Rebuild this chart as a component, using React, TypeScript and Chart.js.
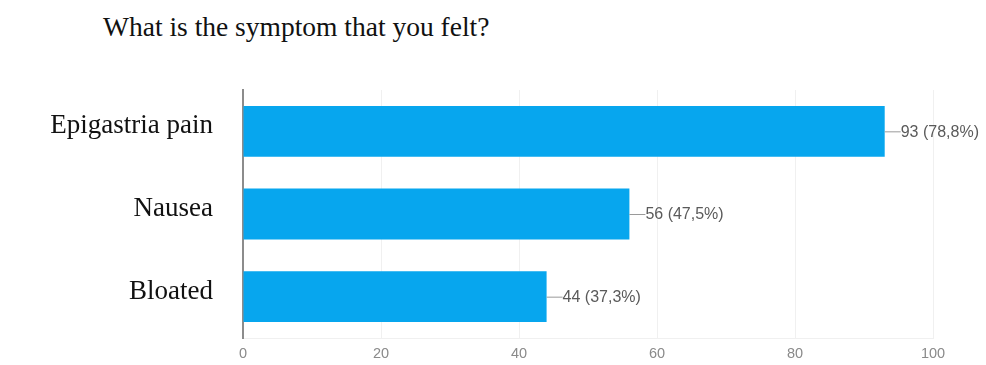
import React, { useEffect, useRef } from "react";
import { Chart, registerables } from "chart.js";

Chart.register(...registerables);

const categories = ["Epigastria pain", "Nausea", "Bloated"];
const counts = [93, 56, 44];
const percents = ["78,8%", "47,5%", "37,3%"];
const xTicks = [0, 20, 40, 60, 80, 100];
const title = "What is the symptom that you felt?";

const valueLabels = {
  id: "valueLabels",
  afterDatasetsDraw(chart: any) {
    const ctx = chart.ctx;
    const meta = chart.getDatasetMeta(0);
    ctx.save();
    meta.data.forEach((bar: any, i: number) => {
      const x = bar.x;
      const y = bar.y;
      ctx.strokeStyle = "#9a9a9a";
      ctx.lineWidth = 1;
      ctx.beginPath();
      ctx.moveTo(x, y + 0.5);
      ctx.lineTo(x + 16, y + 0.5);
      ctx.stroke();
      ctx.fillStyle = "#5a5a5a";
      ctx.font = "16px 'Liberation Sans', Arial, sans-serif";
      ctx.textAlign = "left";
      ctx.textBaseline = "middle";
      ctx.fillText(`${counts[i]} (${percents[i]})`, x + 16, y + 1);
    });
    ctx.restore();
  },
};

export default function App() {
  const ref = useRef<HTMLCanvasElement>(null);
  useEffect(() => {
    if (!ref.current) return;
    const chart = new Chart(ref.current, {
      type: "bar",
      data: {
        labels: categories,
        datasets: [
          {
            data: counts,
            backgroundColor: "#07a6ee",
            borderWidth: 0,
            barPercentage: 0.615,
            categoryPercentage: 1,
          },
        ],
      },
      options: {
        indexAxis: "y",
        animation: false,
        responsive: false,
        maintainAspectRatio: false,
        layout: { padding: { top: 90, right: 53, left: 0, bottom: 0 } },
        plugins: {
          legend: { display: false },
          tooltip: { enabled: false },
          title: { display: false },
        },
        scales: {
          x: {
            min: 0,
            max: 100,
            afterBuildTicks(axis: any) {
              axis.ticks = xTicks.map((v) => ({ value: v }));
            },
            afterFit(axis: any) {
              axis.height = 27;
              axis.paddingLeft = 0;
              axis.paddingRight = 0;
            },
            grid: { color: "rgba(0,0,0,0.06)", drawTicks: false },
            border: { display: true, color: "rgba(0,0,0,0.06)" },
            ticks: {
              padding: 7,
              color: "#8a8a8a",
              font: { family: "'Liberation Sans', Arial, sans-serif", size: 14.5 },
            },
          },
          y: {
            afterFit(axis: any) {
              axis.width = 243;
              axis.paddingTop = 0;
              axis.paddingBottom = 0;
            },
            grid: { display: false, drawTicks: false },
            border: { display: true, color: "#8c8c8c", width: 2 },
            ticks: {
              padding: 30,
              labelOffset: -5,
              color: "#111",
              font: { family: "'Liberation Serif', 'Times New Roman', serif", size: 27 },
            },
          },
        },
      },
      plugins: [valueLabels],
    });
    return () => chart.destroy();
  }, []);

  return (
    <div style={{ position: "fixed", left: 0, top: 0, width: 986, height: 365, background: "#fff" }}>
      <div
        style={{
          position: "absolute",
          left: 103,
          top: 12,
          fontFamily: "'Liberation Serif', 'Times New Roman', serif",
          fontSize: 27.5,
          lineHeight: "30px",
          color: "#111",
          whiteSpace: "nowrap",
        }}
      >
        {title}
      </div>
      <canvas ref={ref} width={986} height={365} style={{ position: "absolute", left: 0, top: 0 }} />
    </div>
  );
}
